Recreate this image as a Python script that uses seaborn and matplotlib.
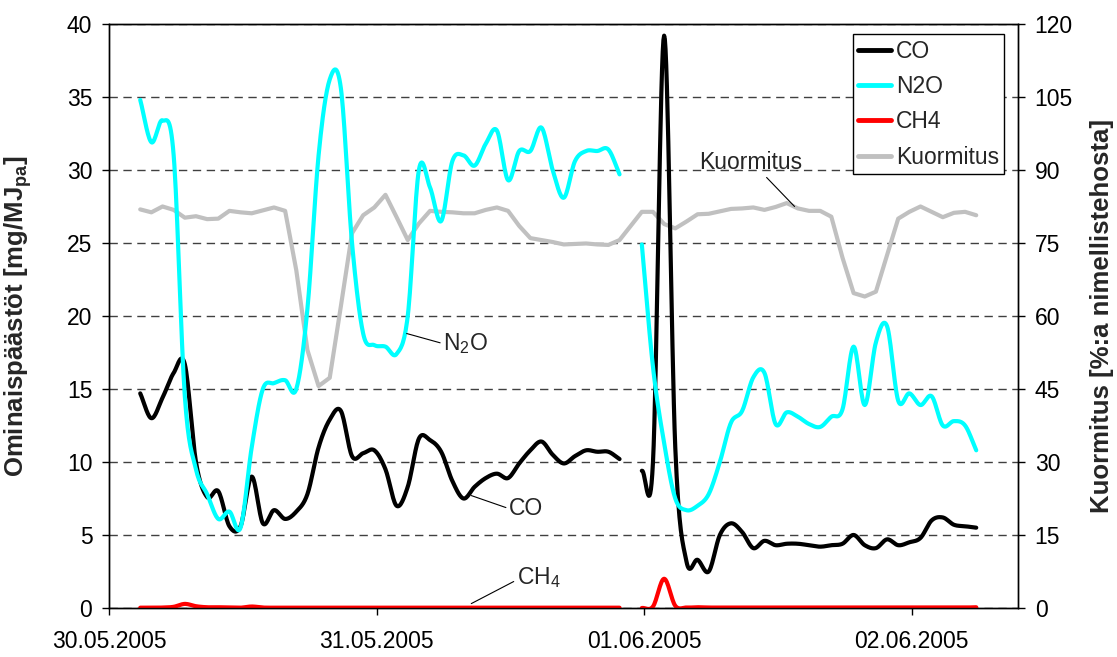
import numpy as np
import pandas as pd
import matplotlib
matplotlib.use("Agg")
import matplotlib.pyplot as plt
import seaborn as sns
from matplotlib.lines import Line2D

# ---- data -------------------------------------------------------------
# hourly readings; time measured in hours from 30.05.2005 00:00
date_ticks_h = [0, 24, 48, 72]
date_labels = ["30.05.2005", "31.05.2005", "01.06.2005", "02.06.2005"]
run1_start_h = 2.8    # first measuring period
run2_start_h = 47.8   # second measuring period

co_run1 = [14.7, 13.0, 14.4, 16.1, 16.7, 10.0, 7.6, 8.0, 5.6, 5.6,
           9.0, 5.8, 6.7, 6.1, 6.6, 7.8, 11.0, 12.9, 13.5, 10.4,
           10.6, 10.8, 9.5, 7.0, 8.3, 11.6, 11.5, 10.7, 8.7, 7.5,
           8.3, 8.9, 9.2, 8.9, 9.9, 10.8, 11.4, 10.5, 9.9, 10.4,
           10.8, 10.7, 10.7, 10.2]
co_run2 = [9.4, 10.0, 39.2, 11.0, 3.2, 3.3, 2.5, 5.0, 5.8, 5.2,
           4.1, 4.6, 4.3, 4.4, 4.4, 4.3, 4.2, 4.3, 4.4, 5.0,
           4.3, 4.1, 4.7, 4.3, 4.5, 4.8, 6.0, 6.2, 5.7, 5.6,
           5.5]

n2o_run1 = [34.8, 31.9, 33.4, 31.0, 14.5, 9.5, 7.8, 6.1, 6.6, 5.5,
            11.0, 15.0, 15.4, 15.6, 15.0, 20.5, 31.0, 36.2, 35.6, 25.0,
            18.8, 18.0, 17.9, 17.4, 20.0, 30.0, 28.8, 26.5, 30.6, 31.0,
            30.3, 31.8, 32.7, 29.3, 31.3, 31.3, 32.9, 30.0, 28.1, 30.6,
            31.3, 31.3, 31.4, 29.7]
n2o_run2 = [24.9, 16.5, 11.3, 7.5, 6.7, 7.0, 7.8, 10.0, 12.7, 13.5,
            15.8, 16.1, 12.6, 13.4, 13.1, 12.6, 12.4, 13.1, 13.6, 17.9,
            13.9, 18.2, 19.3, 14.2, 14.7, 13.9, 14.5, 12.5, 12.8, 12.5,
            10.8]

ch4_run1 = [0.02, 0.02, 0.03, 0.08, 0.28, 0.12, 0.05, 0.05, 0.03, 0.02,
            0.10, 0.03, 0.02, 0.02, 0.02, 0.02, 0.02, 0.02, 0.02, 0.02,
            0.02, 0.02, 0.02, 0.02, 0.02, 0.02, 0.02, 0.02, 0.02, 0.02,
            0.02, 0.02, 0.02, 0.02, 0.02, 0.02, 0.02, 0.02, 0.02, 0.02,
            0.02, 0.02, 0.02, 0.02]
ch4_run2 = [0.00, 0.10, 2.00, 0.15, 0.03, 0.05, 0.03, 0.03, 0.03, 0.03,
            0.03, 0.03, 0.03, 0.03, 0.03, 0.03, 0.03, 0.03, 0.03, 0.03,
            0.03, 0.03, 0.03, 0.03, 0.03, 0.03, 0.03, 0.03, 0.03, 0.03,
            0.05]

# load as % of nominal output, one reading per hour over the whole period
load_pct = [81.9, 81.3, 82.5, 81.8, 80.2, 80.5, 79.9, 80.0, 81.6, 81.3,
            81.1, 81.7, 82.3, 81.6, 69.4, 53.0, 45.6, 47.3, 62.0, 77.0,
            80.7, 82.3, 84.9, 80.3, 75.6, 79.0, 81.6, 81.4, 81.3, 81.1,
            81.1, 81.8, 82.3, 81.6, 78.5, 76.0, 75.6, 75.2, 74.7, 74.8,
            74.9, 74.7, 74.6, 75.6, 78.5, 81.4, 81.4, 78.9, 78.0, 79.4,
            80.9, 81.0, 81.5, 82.0, 82.1, 82.3, 81.8, 82.4, 83.2, 82.1,
            81.6, 81.6, 80.4, 72.0, 64.7, 64.0, 65.0, 72.5, 80.0, 81.4,
            82.5, 81.4, 80.3, 81.2, 81.4, 80.7]

COLORS = {"CO": "#000000", "N2O": "#00FFFF", "CH4": "#FF0000",
          "Kuormitus": "#C0C0C0"}


def hours(start, values):
    return start + np.arange(len(values), dtype=float)


def smooth_curve(t, y, steps=16):
    """Cubic Hermite (Catmull-Rom) curve through the readings."""
    t = np.asarray(t, float)
    y = np.asarray(y, float)
    m = np.gradient(y)
    s = np.linspace(0, 1, steps, endpoint=False)
    h00 = 2 * s**3 - 3 * s**2 + 1
    h10 = s**3 - 2 * s**2 + s
    h01 = -2 * s**3 + 3 * s**2
    h11 = s**3 - s**2
    xs, ys = [], []
    for i in range(len(t) - 1):
        xs.append(t[i] + s * (t[i + 1] - t[i]))
        ys.append(h00 * y[i] + h10 * m[i] + h01 * y[i + 1] + h11 * m[i + 1])
    xs.append([t[-1]])
    ys.append([y[-1]])
    return np.concatenate(xs), np.concatenate(ys)


# ---- style ------------------------------------------------------------
sns.set_style("ticks")
plt.rcParams["font.family"] = ["Liberation Sans", "DejaVu Sans"]
plt.rcParams["mathtext.fontset"] = "custom"
plt.rcParams["mathtext.rm"] = "Liberation Sans"
plt.rcParams["mathtext.bf"] = "Liberation Sans:bold"
plt.rcParams["axes.edgecolor"] = "black"
plt.rcParams["axes.linewidth"] = 1.0
FS = 16.5
FS_TITLE = 18.5
LW = 3.0

fig = plt.figure(figsize=(11.17, 6.57), dpi=100)
ax = fig.add_axes([0.0976, 0.0746, 0.8138, 0.8889])
ax2 = ax.twinx()
ax.set_zorder(2)
ax.patch.set_visible(False)
ax2.set_zorder(1)

# load curve (right axis), straight segments
load_df = pd.DataFrame({"t": hours(run1_start_h, load_pct), "v": load_pct})
sns.lineplot(data=load_df, x="t", y="v", ax=ax2, color=COLORS["Kuormitus"],
             lw=LW, estimator=None, sort=False)

# emission curves (left axis), smoothed, one line per measuring period
series = [("CO", co_run1, co_run2), ("N2O", n2o_run1, n2o_run2),
          ("CH4", ch4_run1, ch4_run2)]
for name, run1, run2 in series:
    for start, vals in ((run1_start_h, run1), (run2_start_h, run2)):
        xs, ys = smooth_curve(hours(start, vals), vals)
        sns.lineplot(x=xs, y=ys, ax=ax, color=COLORS[name], lw=LW,
                     estimator=None, sort=False)

# ---- axes -------------------------------------------------------------
ax.set_xlim(0, 81.55)
ax.set_ylim(0, 40)
ax2.set_ylim(0, 120)
ax.set_yticks(np.arange(0, 41, 5))
ax2.set_yticks(np.arange(0, 121, 15))
ax.set_xticks(date_ticks_h)
ax.set_xticklabels(date_labels)
ax.tick_params(axis="y", direction="out", length=5, width=1, pad=7,
               labelsize=FS, colors="black")
ax.tick_params(axis="x", direction="out", length=5, width=1, pad=10.5,
               labelsize=FS, colors="black")
ax2.tick_params(axis="y", direction="out", length=5, width=1, pad=7,
                labelsize=FS, colors="black")
ax2.yaxis.grid(True, linestyle=(0, (6, 4)), color="#404040", lw=1.0)
ax2.set_axisbelow(True)
for a in (ax, ax2):
    for sp in a.spines.values():
        sp.set_visible(True)
        sp.set_color("black")
        sp.set_linewidth(1.0)

ax.set_xlabel("")
ax.set_ylabel("Ominaispäästöt [mg/MJ$_{\\mathbf{pa}}$]", fontsize=FS_TITLE,
              fontweight="bold")
ax2.set_ylabel("Kuormitus [%:a nimellistehosta]", fontsize=FS_TITLE,
               fontweight="bold", rotation=90)
ax.yaxis.set_label_coords(-0.0826, 0.5)
ax2.yaxis.set_label_coords(1.079, 0.5)

# ---- labels on the curves --------------------------------------------
line_kw = dict(arrowstyle="-", color="black", lw=0.8, shrinkA=0, shrinkB=0)
ax.annotate("Kuormitus", xy=(61.5, 27.5), xytext=(57.6, 30.5),
            fontsize=FS, ha="center", va="center",
            arrowprops=dict(line_kw, relpos=(0.62, 0.0)))
ax.annotate("N$_2$O", xy=(26.7, 18.8), xytext=(30.0, 18.1),
            fontsize=FS, ha="left", va="center",
            arrowprops=dict(line_kw, relpos=(0.0, 0.5)))
ax.annotate("CO", xy=(32.5, 7.7), xytext=(35.9, 6.8),
            fontsize=FS, ha="left", va="center",
            arrowprops=dict(line_kw, relpos=(0.0, 0.5)))
ax.annotate("CH$_4$", xy=(32.5, 0.3), xytext=(36.6, 2.1),
            fontsize=FS, ha="left", va="center",
            arrowprops=dict(line_kw, relpos=(0.0, 0.4)))

# ---- legend -----------------------------------------------------------
handles = [Line2D([], [], color=COLORS[k], lw=LW + 0.5)
           for k in ("CO", "N2O", "CH4", "Kuormitus")]
leg = ax.legend(handles, ["CO", "N2O", "CH4", "Kuormitus"],
                loc="upper right", bbox_to_anchor=(0.985, 0.982),
                fontsize=FS, frameon=True, fancybox=False, framealpha=1,
                edgecolor="black", handlelength=1.45, handletextpad=0.22,
                labelspacing=0.54, borderpad=0.22, borderaxespad=0)
leg.get_frame().set_linewidth(1.0)

fig.savefig("out.png", dpi=100)
